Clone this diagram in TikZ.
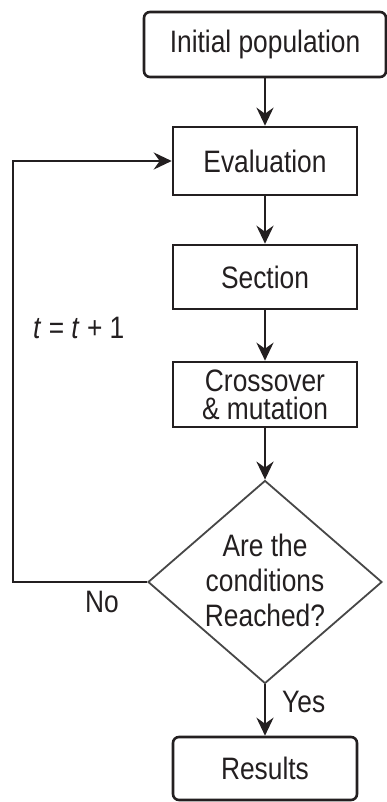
\documentclass[tikz,border=0pt]{standalone}
\usepackage{fontspec}
\setmainfont{Liberation Sans}[FakeStretch=0.85]
\usetikzlibrary{shapes.geometric,arrows.meta}
\definecolor{ink}{HTML}{231F20}
\begin{document}
\begin{tikzpicture}[x=1pt,y=-1pt,
  every node/.style={font=\fontsize{31}{35}\selectfont, text=ink},
  box/.style={draw=ink, line width=2.6pt, minimum width=184pt, inner sep=0pt},
  rbox/.style={box, rounded corners=6pt},
  dia/.style={draw=black!72, line width=1.8pt, diamond, minimum width=234pt, minimum height=203pt, inner sep=0pt},
  arr/.style={draw=ink, line width=2.6pt, -{Stealth[length=18pt,width=17pt,inset=6pt]}},
  lbl/.style={anchor=base west, inner sep=0pt}
]
\useasboundingbox (0,0) rectangle (387,802);
\node[rbox, minimum width=242pt, minimum height=65pt] (init) at (265,44.5) {Initial population};
\node[box, minimum height=68pt] (eval) at (265,161) {Evaluation};
\node[box, minimum height=64pt] (sect) at (265,277) {Section};
\node[box, minimum height=65pt, align=center, font=\fontsize{31}{28}\selectfont] (cross) at (265,394.5) {Crossover\\\& mutation};
\node[dia] (dec) at (265,582) {};
\node[align=center, inner sep=0pt] (dectext) at (265,580) {Are the\\conditions\\Reached?};
\node[rbox, minimum height=63pt] (res) at (265,768.5) {Results};
\coordinate (lp) at (13,582);
\draw[arr] (init) -- (eval);
\draw[arr] (eval) -- (sect);
\draw[arr] (sect) -- (cross);
\draw[arr] (cross) -- (dec.north);
\draw[arr] (dec.south) -- (res);
\draw[arr] (dec.west) -- (lp) |- (eval.west);
\node[lbl] (tlab) at (33,338) {\textit{t} = \textit{t} + 1};
\node[lbl] (nolab) at (85,612) {No};
\node[lbl] (yeslab) at (282,712) {Yes};
\end{tikzpicture}
\end{document}
